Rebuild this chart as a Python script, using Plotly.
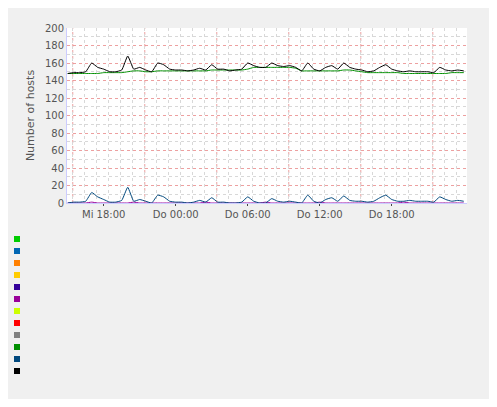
import plotly.graph_objects as go

OFF = 8
W, H = 497 - 2 * OFF, 407 - 2 * OFF
L, R, T, B = 67, 467, 28, 203

hours = [15 + 0.5 * i for i in range(67)]
total = [148,149,149,150,160,155,153,150,150,152,
         168,153,155,152,150,160,158,153,152,152,
         151,152,154,152,158,153,153,151,152,153,
         160,157,155,155,160,157,156,157,155,151,
         160,153,151,155,157,153,160,155,153,152,
         150,151,155,158,153,151,150,151,150,150,
         150,149,155,152,151,152,151]
recidive = [148,148,148,148,148,148,149,149,149,149,
            150,151,151,150,150,151,151,151,151,151,
            151,151,151,151,152,152,152,152,152,152,
            153,155,155,155,155,155,155,155,154,151,
            151,151,151,151,151,151,152,152,151,150,
            149,149,149,149,149,149,148,148,148,148,
            148,148,148,148,149,149,149]
ssh = [0,1,1,2,12,7,4,1,1,3,
       18,2,4,2,0,9,7,2,1,1,
       0,1,3,1,6,1,1,0,0,1,
       7,2,0,0,5,2,1,2,1,0,
       9,2,0,4,6,2,8,3,2,2,
       1,2,6,9,4,2,2,3,2,2,
       2,1,7,4,2,3,2]
postfix = [0]*67
for i in (4, 11, 23, 33, 42, 56):
    postfix[i] = 1

tick_vals = [18, 24, 30, 36, 42]
tick_text = ["Mi 18:00", "Do 00:00", "Do 06:00", "Do 12:00", "Do 18:00"]

names = ["plesk-dovecot","plesk-horde","plesk-one-week-ban","plesk-panel","plesk-permanent-ban",
         "plesk-postfix","plesk-proftpd","plesk-roundcube","plesk-wordpress","recidive","ssh","total"]
colors = ["#00CC00","#0066B3","#FF8000","#FFCC00","#330099","#990099","#CCFF00","#FF0000",
          "#808080","#008F00","#00487D","#000000"]
cur = ["0.00"]*9 + ["150.00","1.00","151.00"]
mn = ["0.00"]*9 + ["147.00","0.00","147.03"]
avg = ["0.00"]*5 + ["185.01m"] + ["0.00"]*3 + ["150.63","2.79","153.61"]
mx = ["0.00"]*5 + ["2.00"] + ["0.00"]*3 + ["155.00","18.87","168.87"]

fig = go.Figure()
for name, ys, col in [("plesk-postfix", postfix, "#990099"), ("recidive", recidive, "#008F00"),
                      ("ssh", ssh, "#00487D"), ("total", total, "#000000")]:
    fig.add_trace(go.Scatter(x=hours, y=ys, mode="lines", name=name, line_shape="spline",
                             line=dict(color=col, width=1, smoothing=0.4), showlegend=False))

x0, x1 = 14.94, 48.27
shapes = []
k = 15.42
while k < x1:
    shapes.append(dict(type="line", xref="x", yref="paper", x0=k, x1=k, y0=0, y1=1,
                       line=dict(color="rgba(230,120,120,0.7)", width=1, dash="dot"), layer="below"))
    k += 6

def px(x): return (x - L) / (R - L)
def py(y): return (B - y) / (B - T)

ann = []
ann.append(dict(text="Hosts blacklisted by fail2ban - by day", x=px(265), y=py(18), xanchor="center",
                yanchor="middle", showarrow=False, font=dict(size=12.5, color="#555555")))
ann.append(dict(text="RRDTOOL / TOBI OETIKER", x=px(487), y=py(60), textangle=90, xanchor="center",
                yanchor="middle", showarrow=False, font=dict(size=7, color="#C8C8C8")))
mono = dict(family="DejaVu Sans Mono", size=9.5, color="#555555")
for txt, xr in [("Cur:", 217), ("Min:", 302), ("Avg:", 386), ("Max:", 470)]:
    ann.append(dict(text=txt, x=px(xr), y=py(227), xanchor="right", yanchor="middle", showarrow=False, font=mono))
for i, n in enumerate(names):
    yy = 239 + 12 * i
    shapes.append(dict(type="rect", xref="paper", yref="paper", x0=px(14), x1=px(20), y0=py(yy - 3), y1=py(yy + 3),
                       fillcolor=colors[i], line=dict(width=0)))
    ann.append(dict(text=n, x=px(26), y=py(yy), xanchor="left", yanchor="middle", showarrow=False, font=mono))
    for vals, xr in [(cur, 224), (mn, 308), (avg, 393), (mx, 477)]:
        t = vals[i]
        xx = xr + (7 if t.endswith("m") else 0)
        ann.append(dict(text=t, x=px(xx), y=py(yy), xanchor="right", yanchor="middle", showarrow=False, font=mono))
ann.append(dict(text="Last update: Thu Dec 11 23:45:04 2025", x=px(483), y=py(383), xanchor="right",
                yanchor="middle", showarrow=False, font=mono))
ann.append(dict(text="Munin 2.0.56", x=px(248), y=py(396), xanchor="center", yanchor="middle",
                showarrow=False, font=dict(family="DejaVu Sans", size=7, color="#C8C8C8")))

fig.update_layout(
    width=W, height=H, paper_bgcolor="#F0F0F0", plot_bgcolor="white",
    margin=dict(l=L - OFF, r=W - (R - OFF), t=T - OFF, b=H - (B - OFF), pad=0),
    font=dict(family="DejaVu Sans", size=10, color="#555555"),
    shapes=shapes, annotations=ann,
    xaxis=dict(range=[x0, x1], tickvals=tick_vals, ticktext=tick_text, showgrid=False,
               minor=dict(tick0=15.42, dtick=1, showgrid=True, gridcolor="#D8D8D8", griddash="dot"),
               showline=True, linecolor="#CCCCFF", zeroline=False, ticks="outside", ticklen=2,
               tickfont=dict(size=10, color="#555555")),
    yaxis=dict(range=[0, 200], dtick=20, showgrid=True, gridcolor="rgba(230,120,120,0.7)", griddash="dot",
               minor=dict(dtick=10, showgrid=True, gridcolor="#D8D8D8", griddash="dot"),
               showline=True, linecolor="#CCCCFF", zeroline=False, ticks="", tickfont=dict(size=10, color="#555555"),
               title=dict(text="Number of hosts", font=dict(size=11, color="#555555"), standoff=8)),
)
fig.write_html("out.html")
